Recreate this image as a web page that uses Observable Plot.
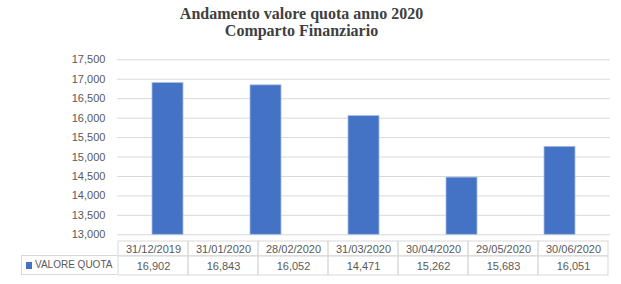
<!DOCTYPE html>
<html>
<head>
<meta charset="utf-8">
<script src="https://cdn.jsdelivr.net/npm/d3@7"></script>
<script src="https://cdn.jsdelivr.net/npm/@observablehq/plot@0.6"></script>
<style>
  body { margin: 0; background: #fff; }
  #chart { position: relative; width: 621px; height: 284px; background: #fff; overflow: hidden; }
  #title { position: absolute; left: 0; top: 0; width: 603px; padding-top: 4.8px; text-align: center;
           font: bold 16px "Liberation Serif", "Times New Roman", serif; line-height: 17.6px; color: #3f3f3f; }
  .layer { position: absolute; left: 0; }
  #label { position: absolute; left: 21px; top: 255.2px; width: 96px; height: 20.3px; box-sizing: border-box;
           border: 1px solid #d9d9d9; border-right: none; font: 10px "Liberation Sans", Arial, sans-serif;
           color: #595959; }
  #label .sw { position: absolute; left: 3.7px; top: 6.1px; width: 6.6px; height: 6.6px; background: #4472C4; }
  #label .tx { position: absolute; left: 13px; top: 3px; line-height: 12px; white-space: nowrap; }
</style>
</head>
<body>
<div id="chart">
  <div id="title"></div>
</div>
<script>
const titleLines = ["Andamento valore quota anno 2020", "Comparto Finanziario"];
const seriesName = "VALORE QUOTA";
const dates = ["31/12/2019", "31/01/2020", "28/02/2020", "31/03/2020", "30/04/2020", "29/05/2020", "30/06/2020"];
const values = [16902, 16843, 16052, 14471, 15262, 15683, 16051];
const yTicks = [13000, 13500, 14000, 14500, 15000, 15500, 16000, 16500, 17000, 17500];
const barCount = 5; // the reference plots only the first five values

const chart = document.getElementById("chart");
document.getElementById("title").innerHTML = titleLines.map(t => `<div>${t}</div>`).join("");

const fmt = d3.format(",");
const barData = dates.slice(0, barCount).map((d, i) => ({date: d, value: values[i]}));
const rows = dates.map((d, i) => ({date: d, value: values[i]}));

const barPlot = Plot.plot({
  width: 621, height: 197,
  marginTop: 15.3, marginBottom: 6.7, marginLeft: 116.9, marginRight: 11,
  style: {fontFamily: "Liberation Sans, Arial, sans-serif", fontSize: "11px", color: "#595959", background: "transparent", overflow: "visible"},
  x: {type: "band", domain: barData.map(d => d.date), paddingInner: 0.686, paddingOuter: 0.343, axis: null},
  y: {domain: [yTicks[0], yTicks[yTicks.length - 1]], ticks: yTicks, tickFormat: fmt, tickSize: 0, tickPadding: 12, label: null},
  marks: [
    Plot.ruleY(yTicks, {stroke: "#d9d9d9", strokeWidth: 1}),
    Plot.barY(barData, {x: "date", y1: yTicks[0], y2: "value", fill: "#4472C4", stroke: "#a9bde6", strokeWidth: 0.8})
  ]
});
barPlot.classList.add("layer");
barPlot.style.top = "44px";
chart.appendChild(barPlot);

const tablePlot = Plot.plot({
  width: 621, height: 40,
  marginTop: 0.7, marginBottom: 5, marginLeft: 116.7, marginRight: 11,
  style: {fontFamily: "Liberation Sans, Arial, sans-serif", fontSize: "11px", color: "#595959", background: "transparent", overflow: "visible"},
  x: {type: "band", domain: dates, padding: 0, axis: null},
  y: {type: "band", domain: ["date", "value"], padding: 0, axis: null},
  marks: [
    Plot.cell(rows, {x: "date", y: () => "date", fill: "none", stroke: "#d9d9d9", insetBottom: 2.15}),
    Plot.cell(rows, {x: "date", y: () => "value", fill: "none", stroke: "#d9d9d9", insetTop: -2.15}),
    Plot.text(rows, {x: "date", y: () => "date", text: "date", fontSize: 11, fill: "#595959", dy: -0.3}),
    Plot.text(rows, {x: "date", y: () => "value", text: d => fmt(d.value), fontSize: 11, fill: "#595959", dy: -1})
  ]
});
tablePlot.classList.add("layer");
tablePlot.style.top = "240px";
chart.appendChild(tablePlot);

const label = document.createElement("div");
label.id = "label";
label.innerHTML = `<span class="sw"></span><span class="tx">${seriesName}</span>`;
chart.appendChild(label);
</script>
</body>
</html>
